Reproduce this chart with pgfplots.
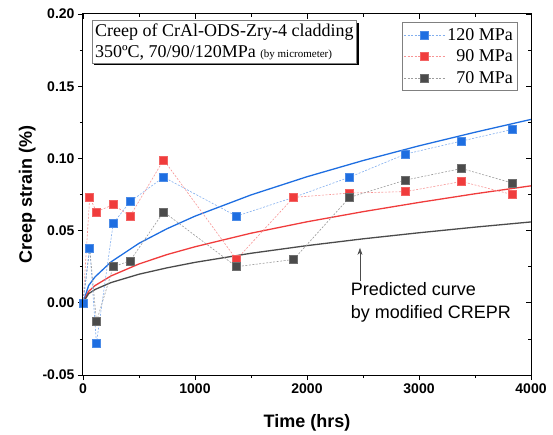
\documentclass[border=0pt]{standalone}
\usepackage{pgfplots}
\pgfplotsset{compat=1.18}
\usepackage{fontspec}
\setmainfont{Liberation Sans}
\newfontfamily\tnr{Liberation Serif}
\usetikzlibrary{arrows.meta,shadows}
\definecolor{cblue}{RGB}{30,110,225}
\definecolor{cred}{RGB}{240,60,60}
\definecolor{cgray}{RGB}{75,75,75}
\begin{document}
\begin{tikzpicture}
\pgfplotsset{
  frame/.style={width=448pt,height=361pt,scale only axis,
    xmin=0,xmax=4000,ymin=-0.05,ymax=0.2,
    xtick={0,1000,...,4000},ytick={-0.05,0,...,0.2},
    minor x tick num=1,minor y tick num=1,
    axis line style={line width=1pt},
    major tick length=5pt,minor tick length=3pt,
    every tick/.style={line width=0.8pt,black}},
  fit/.style={line width=1.3pt,forget plot},
  meas/.style={line width=0.6pt,dash pattern=on 2pt off 1.5pt,
    mark=square*,mark size=4pt},
}
\begin{axis}[frame,
  tick align=outside,xtick pos=bottom,ytick pos=left,
  /pgf/number format/assume math mode=true,
  ticklabel style={font=\fontsize{14}{16}\selectfont\bfseries},
  yticklabel style={/pgf/number format/.cd,fixed,fixed zerofill,precision=2},
  xticklabel style={/pgf/number format/1000 sep={}},
  label style={font=\fontsize{18}{21}\selectfont\bfseries},
  xlabel={Time (hrs)},ylabel={Creep strain (\%)},
  xlabel style={yshift=-14pt},
  legend style={at={(0.969,0.978)},anchor=north east,draw=gray,
    font=\tnr\fontsize{18}{20}\selectfont,cells={anchor=east},
    row sep=4pt,inner xsep=2pt,inner ysep=4pt},
  legend image code/.code={
    \draw[#1,mark=none] (0pt,0pt) -- (41pt,0pt);
    \draw[#1,only marks] plot coordinates {(20.5pt,0pt)};},
]
% predicted curves (modified CREPR)
\addplot[fit,cblue] coordinates {(0,0) (50,0.0119) (107,0.0179) (250,0.0283) (500,0.0412) (750,0.0513) (1000,0.0600) (1500,0.0747) (2000,0.0873) (2500,0.0985) (3000,0.1087) (3500,0.1181) (4000,0.1270)};
\addplot[fit,cred] coordinates {(0,0) (50,0.0079) (107,0.0119) (250,0.0186) (500,0.0269) (750,0.0334) (1000,0.0388) (1500,0.0482) (2000,0.0561) (2500,0.0631) (3000,0.0695) (3500,0.0755) (4000,0.0810)};
\addplot[fit,cgray] coordinates {(0,0) (50,0.0063) (107,0.0092) (250,0.0140) (500,0.0198) (750,0.0242) (1000,0.0280) (1500,0.0343) (2000,0.0396) (2500,0.0443) (3000,0.0485) (3500,0.0524) (4000,0.0560)};
% measured
\addplot[meas,color=cblue!55,mark options={solid,fill=cblue,draw=cblue!80}] coordinates {
  (0,0) (60,0.038) (120,-0.028) (270,0.055) (420,0.070) (720,0.087)
  (1370,0.060) (1880,0.073) (2380,0.087) (2880,0.103) (3380,0.112) (3830,0.120)};
\addlegendentry{120 MPa}
\addplot[meas,color=cred!55,mark options={solid,fill=cred,draw=cred!80}] coordinates {
  (0,0) (60,0.073) (120,0.063) (270,0.068) (420,0.060) (720,0.099)
  (1370,0.030) (1880,0.073) (2380,0.076) (2880,0.077) (3380,0.084) (3830,0.075)};
\addlegendentry{90 MPa}
\addplot[meas,color=cgray!55,mark options={solid,fill=cgray,draw=cgray!80}] coordinates {
  (0,0) (60,0.038) (120,-0.013) (270,0.025) (420,0.029) (720,0.063)
  (1370,0.025) (1880,0.030) (2380,0.073) (2880,0.085) (3380,0.093) (3830,0.083)};
\addlegendentry{70 MPa}
% blue again on top of gray at early times
\addplot[meas,forget plot,color=cblue!55,mark options={solid,fill=cblue,draw=cblue!80}] coordinates {(0,0) (60,0.038)};
\node[anchor=north west,draw=gray,fill=white,align=left,inner sep=3pt,
  drop shadow={shadow xshift=2pt,shadow yshift=-2.5pt,fill=black,opacity=1},
  font=\tnr\fontsize{18}{21}\selectfont]
  at (rel axis cs:0.02,0.983)
  {Creep of CrAl-ODS-Zry-4 cladding\\350ºC, 70/90/120MPa {\fontsize{11}{13}\selectfont (by micrometer)}};
\draw[-{Stealth[length=7pt,width=5pt]},line width=0.6pt,gray!60!black]
  (axis cs:2473,0.015) -- (axis cs:2473,0.038);
\node[anchor=west,align=left,font=\fontsize{18}{23}\selectfont,inner sep=0pt]
  at (axis cs:2390,0.0003) {Predicted curve\\by modified CREPR};
\end{axis}
\begin{axis}[frame,tick align=inside,xtick pos=top,ytick pos=right,
  xticklabels={},yticklabels={},axis lines=box]
\end{axis}
\path ([shift={(-83pt,-59pt)}]current axis.south west) rectangle ([shift={(22pt,14pt)}]current axis.north east);
\end{tikzpicture}
\end{document}
